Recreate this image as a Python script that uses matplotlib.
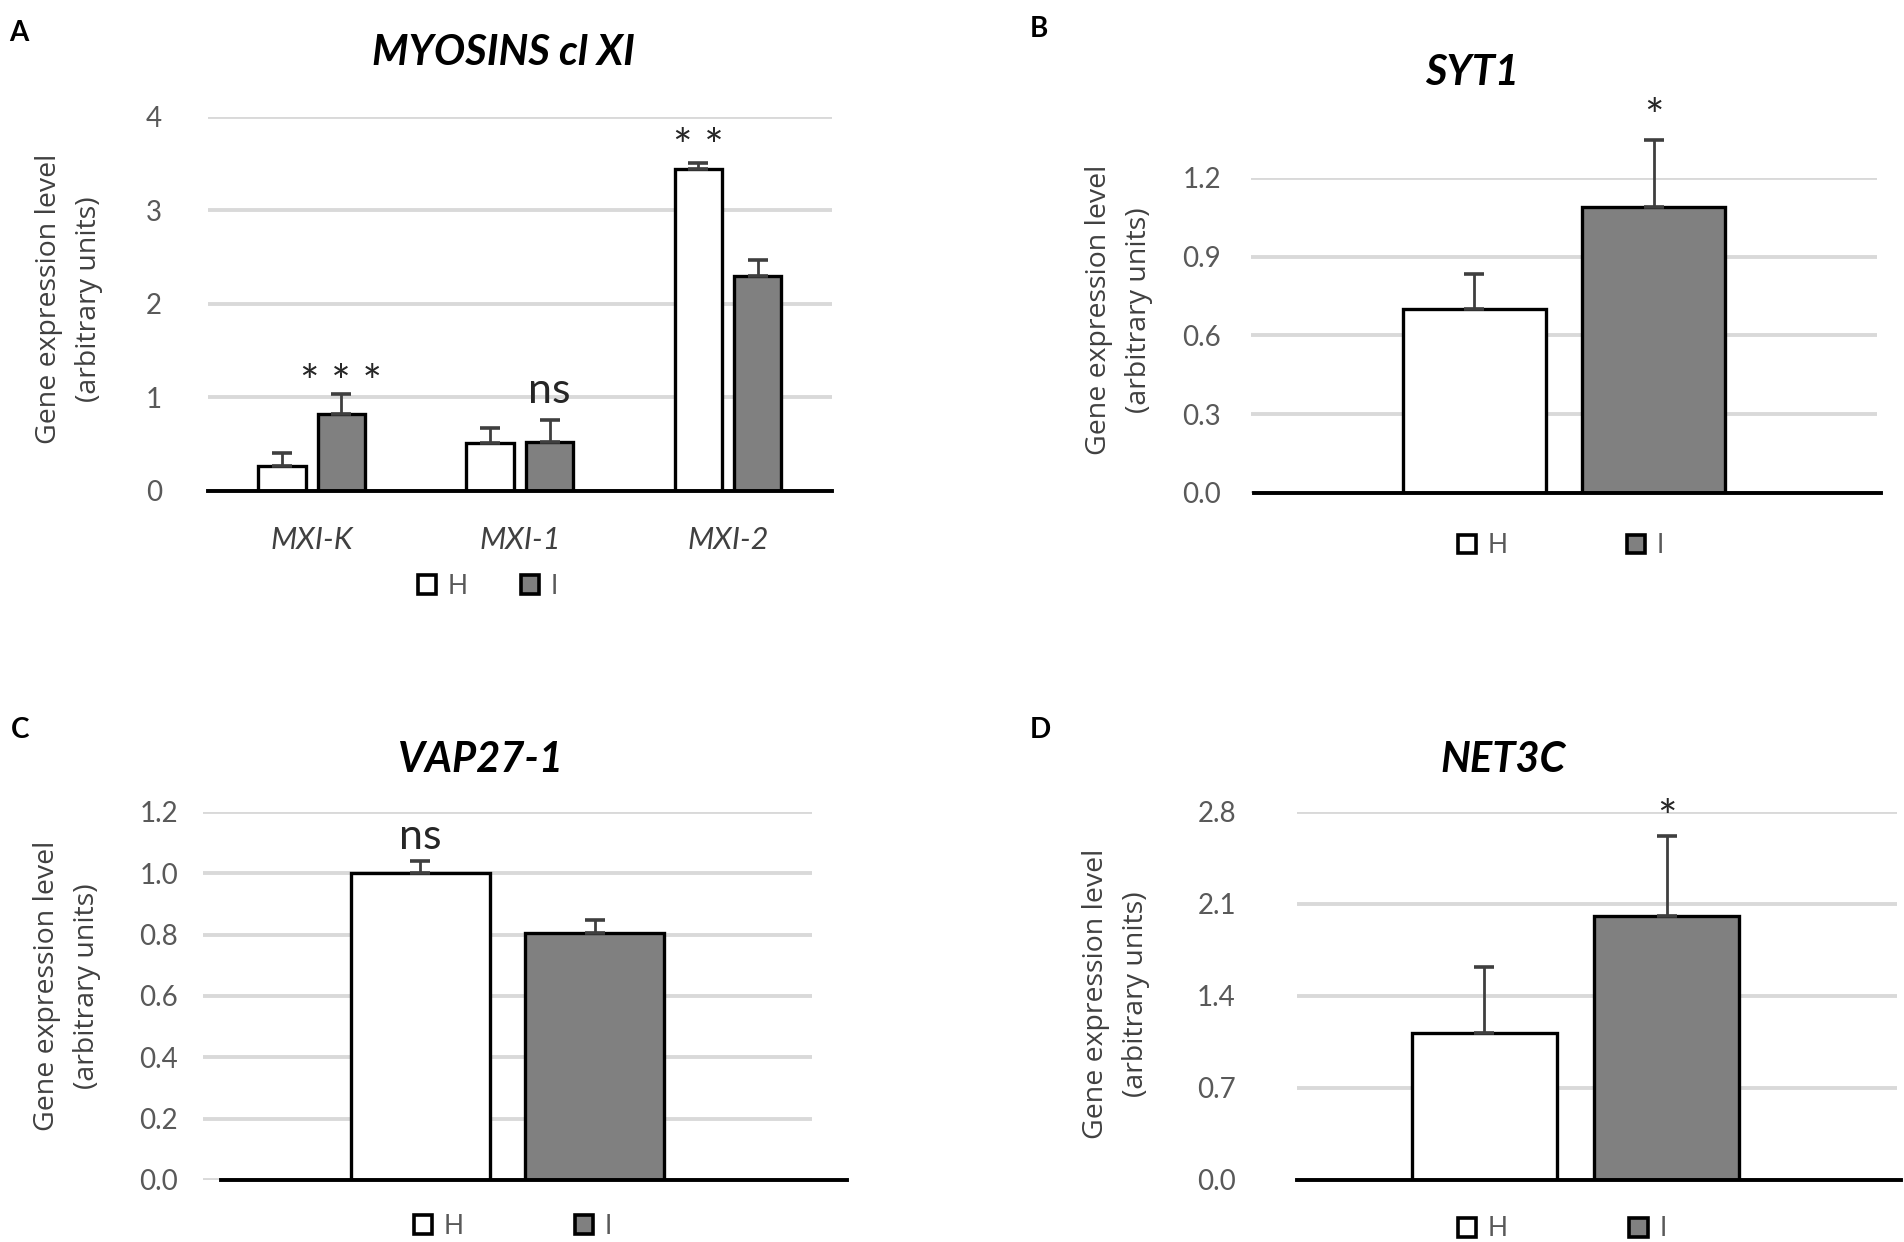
import numpy as np
import matplotlib
matplotlib.use("Agg")
from matplotlib import pyplot as plt
from matplotlib.patches import Patch

plt.rcParams['font.family'] = ['Lato', 'DejaVu Sans']

# ---- data ----
myo_genes = ["MXI-K", "MXI-1", "MXI-2"]
myo_h = [0.27, 0.51, 3.44]
myo_h_err = [0.13, 0.16, 0.07]
myo_i = [0.82, 0.52, 2.30]
myo_i_err = [0.21, 0.24, 0.17]
myo_sig = [("I", 0, "* * *"), ("I", 1, "ns"), ("H", 2, "* *")]

syt1_h, syt1_h_err = [0.70], [0.134]
syt1_i, syt1_i_err = [1.088], [0.256]
syt1_sig = [("I", 0, "*")]

vap_h, vap_h_err = [1.00], [0.04]
vap_i, vap_i_err = [0.807], [0.04]
vap_sig = [("H", 0, "ns")]

net_h, net_h_err = [1.12], [0.50]
net_i, net_i_err = [2.01], [0.61]
net_sig = [("I", 0, "*")]

W, H = 1904, 1242
GRID = '#d9d9d9'
GREY = '#808080'
TXT = '#595959'


def fx(x):
    return x / W


def fy(y):
    return 1 - y / H


fig = plt.figure(figsize=(W / 100, H / 100), dpi=100)


def panel(rect, cats, h, h_err, i, i_err, sig, yticks, fmt, xlim, tickpad,
          title, title_xy, letter, letter_xy, ylab_xy, leg_xy, colspace,
          zero_span, sig_offsets):
    l, t, r, b = rect
    ax = fig.add_axes([fx(l), fy(b), (r - l) / W, (b - t) / H])
    x = np.arange(len(cats))
    off, w = 0.143, 0.227
    ax.bar(x - off, h, w, color='white', edgecolor='black', linewidth=2.4, zorder=3)
    ax.bar(x + off, i, w, color=GREY, edgecolor='black', linewidth=2.4, zorder=3)
    ekw = dict(fmt='none', ecolor='#3f3f3f', elinewidth=2.0, capsize=7.5,
               capthick=2.6, zorder=4, clip_on=False)
    ax.errorbar(x - off, h, yerr=[np.zeros(len(h)), h_err], **ekw)
    ax.errorbar(x + off, i, yerr=[np.zeros(len(i)), i_err], **ekw)

    ax.set_ylim(yticks[0], yticks[-1])
    ax.set_xlim(*xlim)
    ax.set_yticks(yticks)
    ax.set_yticklabels([fmt.format(v) for v in yticks])
    ax.yaxis.grid(True, color=GRID, linewidth=2.8, zorder=0)
    ax.set_axisbelow(True)
    for s in ax.spines.values():
        s.set_visible(False)
    ax.axhline(0, xmin=zero_span[0], xmax=zero_span[1], color='black',
               linewidth=2.8, zorder=5, clip_on=False)
    ax.tick_params(axis='y', length=0, pad=tickpad, labelsize=20, labelcolor=TXT)
    if cats[0]:
        ax.set_xticks(x)
        ax.set_xticklabels(cats, style='italic', fontsize=22, color='#404040')
        ax.tick_params(axis='x', length=0, pad=25)
    else:
        ax.set_xticks([])

    for (series, k, txt), dy in zip(sig, sig_offsets):
        if series == "H":
            xx, top = x[k] - off, h[k] + h_err[k]
        else:
            xx, top = x[k] + off, i[k] + i_err[k]
        size = 31 if txt == "ns" else 33
        ax.annotate(txt, xy=(xx, top), xytext=(0, dy), textcoords='offset points',
                    ha='center', va='center', fontsize=size, color='#262626',
                    annotation_clip=False)

    ax.set_ylabel("Gene expression level\n(arbitrary units)", family=['Open Sans', 'DejaVu Sans'],
                  fontsize=20.5, color='#404040', ha='center', va='center',
                  multialignment='center', linespacing=1.55)
    ax.yaxis.set_label_coords(fx(ylab_xy[0]), fy(ylab_xy[1]), transform=fig.transFigure)

    handles = [Patch(facecolor='white', edgecolor='black', linewidth=2.6),
               Patch(facecolor=GREY, edgecolor='black', linewidth=2.6)]
    ax.legend(handles, ['H', 'I'], ncol=2, loc='center',
              bbox_to_anchor=(fx(leg_xy[0]), fy(leg_xy[1])),
              bbox_transform=fig.transFigure, frameon=False, fontsize=19,
              labelcolor=TXT, handlelength=0.7, handleheight=0.7,
              handletextpad=0.44, columnspacing=colspace, borderpad=0)

    fig.text(fx(title_xy[0]), fy(title_xy[1]), title, ha='center', va='center',
             fontsize=30, fontweight='bold', style='italic', color='black')
    fig.text(fx(letter_xy[0]), fy(letter_xy[1]), letter, ha='left', va='top',
             fontsize=20, fontweight='bold', color='black')
    return ax


panel((207.6, 116.7, 832, 490.8), myo_genes, myo_h, myo_h_err, myo_i, myo_i_err,
      myo_sig, [0, 1, 2, 3, 4], "{:.0f}", (-0.5, 2.5), 33,
      "MYOSINS cl XI", (503, 53), "A", (9, 20), (69, 299), (488, 586), 2.0,
      (0, 1), [7, 21, 9.5])

panel((1251, 178, 1877, 492.8), [""], syt1_h, syt1_h_err, syt1_i, syt1_i_err,
      syt1_sig, [0, 0.3, 0.6, 0.9, 1.2], "{:.1f}", (-0.5, 0.5), 21.6,
      "SYT1", (1472, 73), "B", (1030, 16), (1119, 310), (1561, 546), 4.5,
      (0.005, 1.006), [15])

panel((203, 812, 812, 1180), [""], vap_h, vap_h_err, vap_i, vap_i_err,
      vap_sig, [0, 0.2, 0.4, 0.6, 0.8, 1.0, 1.2], "{:.1f}", (-0.5, 0.5), 18,
      "VAP27-1", (481, 760), "C", (11, 717), (67, 986), (513, 1226), 4.2,
      (0.03, 1.057), [17.5])

panel((1297, 812, 1897, 1180), [""], net_h, net_h_err, net_i, net_i_err,
      net_sig, [0, 0.7, 1.4, 2.1, 2.8], "{:.1f}", (-0.436, 0.503), 44,
      "NET3C", (1503, 760), "D", (1030, 717), (1116, 994), (1562, 1229), 4.6,
      (0, 1.007), [11])

fig.savefig("out.png", dpi=100)
